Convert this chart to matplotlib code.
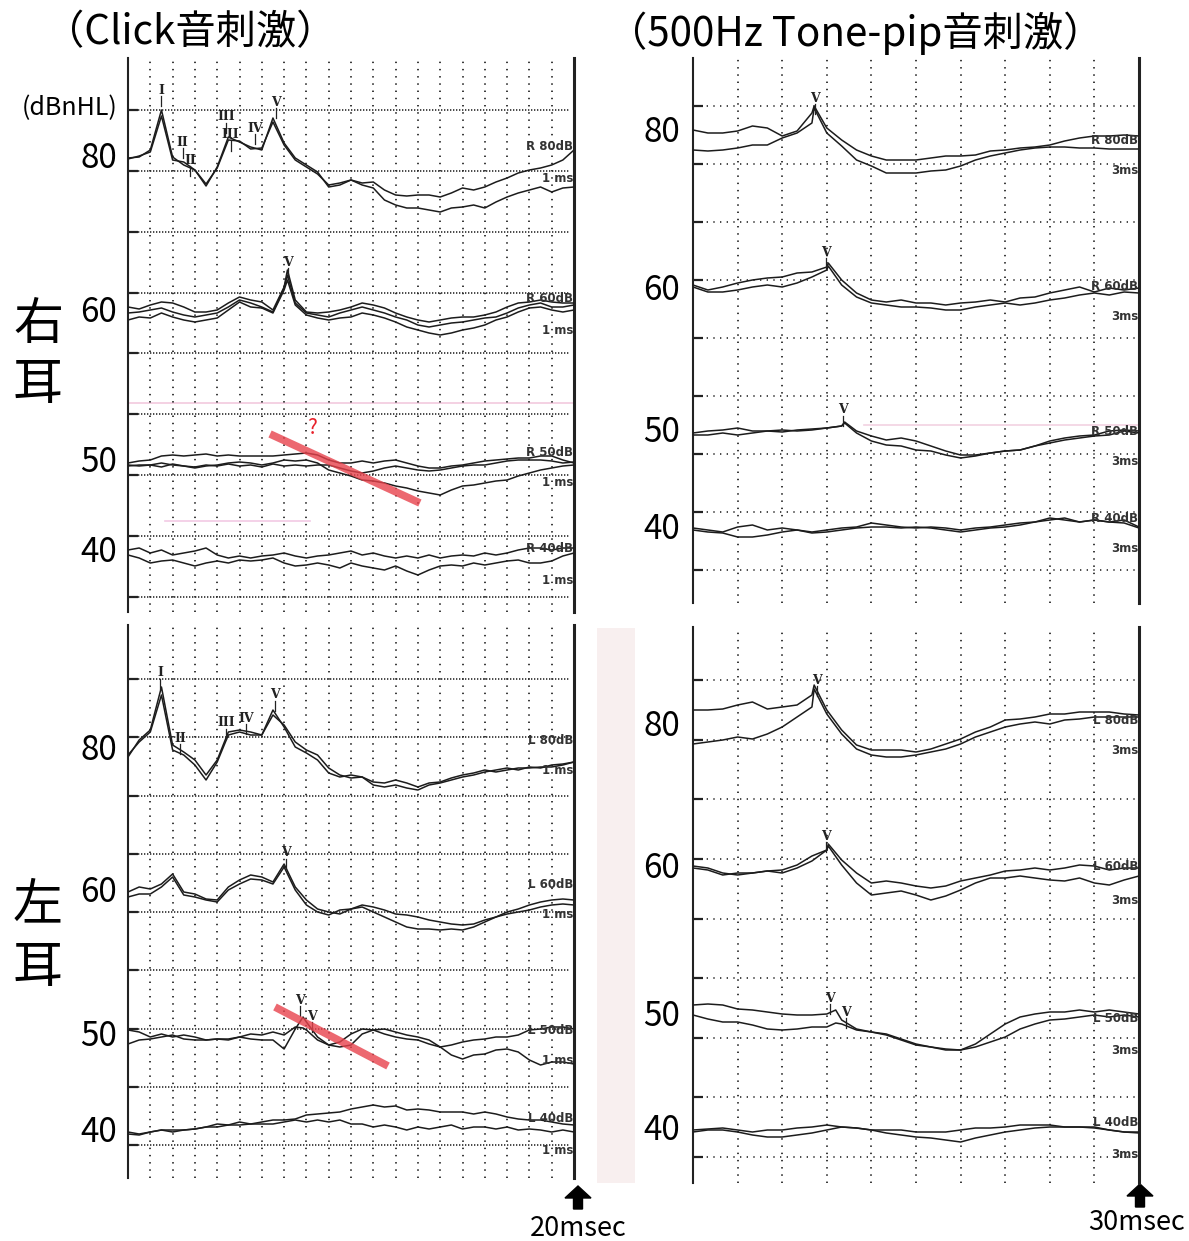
import matplotlib.pyplot as plt
import numpy as np
from matplotlib.patches import FancyArrow, Rectangle
from matplotlib.transforms import blended_transform_factory

plt.rcParams['font.family'] = ['Noto Sans CJK JP', 'DejaVu Sans']

W, H = 1189, 1241

# sample times (ms)
click_t = np.arange(0, 20.5, 0.5)
tone_t = np.arange(0, 31, 1.0)

# ---- Click, right ear (amplitude relative to the level baseline)
r80_click_a = [0, 1, 8, 48, 1, -7, -12, -28, -9, 21, 16, 11, 8, 40, 15, 0, -7, -14, -29, -27, -22,
               -25, -24, -32, -37, -38, -37, -37, -39, -35, -30, -32, -29, -24, -20, -15, -12, -10, -7, -2, 8]
r80_click_b = [-1, 2, 6, 42, -2, -4, -12, -26, -10, 18, 17, 9, 10, 36, 13, -2, -9, -16, -27, -25, -22,
               -27, -30, -42, -47, -50, -50, -52, -54, -50, -49, -47, -50, -44, -39, -35, -32, -29, -34, -30, -29]
r60_click_a = [5, 3, 7, 10, 9, 5, 0, 0, 2, 9, 15, 12, 10, 2, 25, 12, 0, -1, 0, 2, 5,
               9, 7, 4, -1, -5, -8, -10, -8, -6, -5, -5, -3, 0, 5, 9, 10, 12, 10, 9, 9]
r60_click_b = [-1, 0, 2, 4, 0, -3, -5, -3, -1, 5, 12, 9, 5, 0, 24, 9, -1, -3, -5, -1, 2,
               5, 2, -1, -5, -8, -13, -15, -13, -11, -10, -8, -6, -5, -1, 4, 7, 9, 5, 5, 7]
r60_click_c = [-8, -5, -6, -1, -5, -8, -10, -8, -6, 2, 10, 5, 4, -1, 22, 7, -3, -6, -8, -6, -5,
               -1, -3, -6, -10, -15, -18, -21, -23, -21, -18, -16, -13, -8, -5, 0, 4, 5, 2, 0, 2]
r60_click_peak = (7.15, [42, 37, 32])
r50_click_a = [0, 2, 3, 7, 8, 7, 8, 9, 7, 8, 7, 7, 7, 7, 8, 9, 10, 8, 3, 0, 0,
               2, 0, 2, 3, 0, -3, -5, -5, -3, -2, 0, 2, 3, 4, 5, 5, 7, 7, 3, 0]
r50_click_b = [-2, -3, -2, -4, -1, -3, -4, -2, -3, -1, -3, -2, -4, -1, -3, -2, -3, -2, -2, -5, -8,
               -10, -8, -5, -3, -5, -7, -8, -7, -5, -3, -2, -2, 0, 2, 3, 3, 3, 2, 0, 1]
r50_click_c = [-3, -2, -2, 0, -2, -3, -5, -3, -2, 0, 1, 0, -2, 0, 3, 2, 3, 0, -7, -10, -13,
               -17, -18, -20, -23, -25, -28, -30, -32, -27, -23, -22, -20, -18, -17, -13, -10, -7, -5, -3, -2]
r40_click_a = [3, 5, 0, 3, -2, 0, 2, 5, -2, -5, -3, -5, -3, -2, 0, -3, -5, -3, -2, 0, 2,
               -2, 0, -3, -5, -3, -5, -2, -5, -3, -2, -3, 0, -2, 0, 3, 5, 5, 3, 5, 5]
r40_click_b = [-2, -5, -10, -8, -7, -10, -13, -10, -8, -10, -7, -8, -7, -5, -10, -13, -12, -10, -12, -15, -10,
               -13, -15, -17, -13, -18, -22, -17, -13, -12, -13, -10, -12, -10, -8, -7, -10, -10, -8, -3, 0]

# ---- Click, left ear
l80_click_a = [-7, 10, 20, 63, 5, -2, -10, -25, -10, 18, 20, 18, 15, 40, 23, 3, -3, -10, -23, -27, -25,
               -27, -32, -33, -30, -33, -37, -33, -32, -28, -25, -23, -20, -22, -20, -18, -18, -17, -17, -15, -12]
l80_click_b = [-5, 8, 18, 55, 0, -5, -15, -30, -12, 15, 18, 15, 15, 35, 25, 8, 0, -5, -18, -25, -28,
               -27, -35, -37, -35, -38, -40, -35, -33, -30, -27, -25, -22, -20, -18, -20, -17, -18, -15, -14, -12]
l60_click_a = [0, 5, 3, 8, 18, 0, -2, -7, -8, 5, 12, 17, 15, 10, 28, 5, -8, -17, -20, -22, -17,
               -13, -15, -18, -22, -23, -25, -28, -30, -32, -33, -32, -28, -25, -20, -17, -13, -10, -8, -7, -8]
l60_click_b = [-5, -2, -2, 5, 15, -3, -5, -8, -10, 2, 8, 13, 12, 8, 25, 2, -13, -20, -23, -18, -17,
               -15, -20, -25, -30, -35, -37, -37, -38, -37, -38, -35, -30, -25, -22, -20, -18, -15, -13, -12, -13]
l50_click_a = [7, 5, 0, 3, 0, 2, 0, -3, -2, -2, 0, 3, 2, 5, 2, 10, 7, -3, -8, -5, 3,
               8, 7, 3, 0, -2, -3, -7, -10, -8, -5, -3, -2, 0, 0, 2, 7, 8, 10, 10, 8]
l50_click_b = [-7, -3, -2, 0, 2, -2, -3, -3, -2, -3, 0, -2, -3, -3, -12, 8, 15, 0, -8, -10, -8,
               3, 7, 8, 5, 2, 0, -3, -10, -18, -22, -18, -17, -13, -12, -15, -23, -28, -25, -25, -27]
l50_click_peak = (7.85, [9, 20])
l40_click_a = [0, -2, 0, 2, 2, 2, 3, 5, 8, 7, 10, 8, 10, 12, 12, 13, 17, 18, 19, 20, 23,
               25, 27, 25, 26, 22, 23, 22, 20, 20, 20, 18, 20, 18, 15, 13, 12, 12, 10, 8, 7]
l40_click_b = [-2, -3, 0, 2, 0, 2, 3, 5, 5, 7, 7, 8, 8, 8, 10, 12, 10, 12, 10, 12, 8,
               8, 5, 7, 5, 2, 5, 3, 5, 7, 3, 5, 5, 3, 5, 2, 3, 2, 0, 2, 0]

# ---- 500Hz tone-pip, right ear
r80_tone_a = [3, 0, 0, 2, 7, 5, -3, 2, 20, 5, -7, -17, -23, -27, -27, -27, -25, -23, -23, -22,
              -18, -17, -15, -14, -12, -8, -5, -3, -3, -2, -3]
r80_tone_b = [-17, -18, -17, -15, -12, -12, -5, 0, 10, 0, -13, -27, -33, -40, -40, -40, -38, -37, -33, -27,
              -23, -20, -17, -15, -14, -14, -15, -15, -16, -16, -16]
r80_tone_peak = (8.15, [27, 25])
r60_tone_a = [5, 0, 3, 7, 10, 12, 13, 17, 18, 23, 10, -3, -10, -12, -10, -13, -13, -15, -13, -12,
              -10, -12, -8, -7, -3, 0, 3, -2, 2, 0, 2]
r60_tone_b = [3, -2, -2, 0, 3, 5, 3, 7, 13, 20, 5, -7, -13, -15, -17, -17, -18, -20, -20, -17,
              -15, -13, -15, -13, -10, -8, -5, -3, -5, -2, -3]
r60_tone_peak = (9.1, [27, 24])
r50_tone_a = [0, 2, 3, 5, 2, 2, 3, 2, 3, 5, 7, 2, -3, -7, -5, -8, -13, -18, -22, -22,
              -20, -18, -17, -13, -8, -5, -3, -2, 2, 3, 2]
r50_tone_b = [-2, -2, 0, -2, 0, 2, 1, 3, 4, 5, 7, 0, -8, -12, -13, -17, -18, -22, -25, -23,
              -20, -18, -17, -13, -10, -7, -5, -3, -2, 2, 0]
r50_tone_peak = (10.2, [11, 10])
r40_tone_a = [2, 0, -2, 3, 5, 0, 2, 0, -2, 0, 2, 3, 7, 5, 3, 2, 3, 2, 0, 2,
              3, 5, 7, 8, 10, 12, 8, 10, 8, 10, 3]
r40_tone_b = [0, -2, -3, -7, -7, -5, -2, 0, -3, -2, 0, 2, 3, 3, 2, 3, 2, 0, -2, 0,
              2, 3, 5, 8, 12, 10, 8, 10, 8, 7, 2]

# ---- 500Hz tone-pip, left ear
l80_tone_a = [17, 17, 18, 22, 25, 18, 20, 22, 32, 17, -3, -18, -23, -23, -23, -25, -22, -17, -12, -5,
              0, 7, 8, 10, 13, 13, 15, 15, 15, 13, 12]
l80_tone_b = [-17, -15, -13, -10, -12, -7, 0, 10, 20, 13, -7, -22, -28, -30, -30, -28, -25, -22, -17, -10,
              -5, 0, 3, 5, 3, 7, 8, 10, 10, 10, 10]
l80_tone_peak = (8.15, [42, 38])
l60_tone_a = [2, 0, -5, -7, -5, -3, -5, 0, 7, 18, 8, -5, -15, -13, -15, -18, -20, -18, -13, -10,
              -7, -3, -2, 0, -2, 0, 3, 2, -2, 0, 0]
l60_tone_b = [0, -2, -7, -5, -5, -3, -2, 3, 12, 18, 3, -15, -27, -25, -23, -27, -32, -28, -22, -15,
              -10, -10, -8, -10, -12, -13, -10, -15, -17, -12, -8]
l60_tone_peak = (9.1, [24, 22])
l50_tone_a = [12, 13, 12, 8, 7, 5, 3, 2, 2, 3, -3, -12, -15, -17, -22, -27, -30, -32, -33, -27,
              -17, -7, 0, 3, 5, 5, 7, 5, 7, 5, 3]
l50_tone_b = [2, -2, -5, -5, -8, -12, -13, -12, -10, -10, -7, -13, -15, -18, -23, -28, -30, -33, -33, -30,
              -25, -20, -12, -7, -3, -2, 0, 2, 0, 2, 0]
l50_tone_peak = (9.6, [7, -6])
l40_tone_a = [0, 1, 2, 0, -2, 0, 0, 2, 3, 5, 3, 2, 0, 0, 0, -2, -2, -2, 0, 2,
              2, 3, 5, 5, 5, 3, 3, 2, 0, -2, -2]
l40_tone_b = [-2, 0, 0, -2, -5, -7, -7, -5, -3, 0, 3, 2, 0, -3, -5, -7, -8, -10, -12, -8,
              -5, -2, 0, 2, 3, 3, 3, 3, 0, -2, -3]


def with_peak(t, y, peak, i):
    y = np.asarray(y, dtype=float)
    if peak is None:
        return t, y
    tp, amps = peak
    k = np.searchsorted(t, tp)
    return np.insert(t, k, tp), np.insert(y, k, amps[i])


def px_axes(x0, y0, x1, y1):
    return fig.add_axes([x0 / W, 1 - y1 / H, (x1 - x0) / W, (y1 - y0) / H])


def setup_panel(ax, tmax, tstep, hgrid, height, hdash, vdash):
    ax.set_xlim(0, tmax)
    ax.set_ylim(0, height)
    ax.set_facecolor('none')
    for t in np.arange(tstep, tmax - 0.01, tstep):
        ax.axvline(t, color='#2a2a2a', lw=1.3, ls=(0, vdash), zorder=1)
    for h in hgrid:
        ax.axhline(h, xmin=0.015, xmax=0.99, color='#2a2a2a', lw=1.2, ls=(0, hdash), zorder=1)
    ax.set_xticks([])
    ax.set_yticks(hgrid)
    ax.tick_params(axis='y', direction='in', length=7, width=1.6, labelleft=False, colors='#222')
    ax.spines['top'].set_visible(False)
    ax.spines['bottom'].set_visible(False)
    ax.spines['left'].set_linewidth(1.5)
    ax.spines['right'].set_linewidth(2.2)
    ax.spines['left'].set_color('#222')
    ax.spines['right'].set_color('#222')


def draw_levels(ax, t, ear, levels, ms_text, num_dx):
    tr = blended_transform_factory(ax.transAxes, ax.transData)
    tmax = ax.get_xlim()[1]
    for name, base, traces, peak, lab_dy, ms_dy in levels:
        for i, y in enumerate(traces):
            tt, yy = with_peak(t, y, peak, i)
            ax.plot(tt, yy + base, color='#1c1c1c', lw=1.1, zorder=3)
        ax.text(num_dx, base, name, transform=tr, ha='right', va='center', fontsize=24)
        ax.text(tmax * 0.998, base + lab_dy, f'{ear} {name}dB', ha='right', va='center',
                fontsize=8.5, weight='bold', color='#333', family='DejaVu Sans', zorder=4)
        ax.text(tmax * 0.998, base + ms_dy, ms_text, ha='right', va='center',
                fontsize=8.5, weight='bold', color='#333', family='DejaVu Sans', zorder=4)


def draw_marks(ax, marks):
    for t, h, s in marks:
        ax.text(t, h, s, ha='center', va='center', fontsize=9, weight='bold',
                family='DejaVu Serif', color='#222', zorder=4)
        ax.plot([t, t], [h - 6, h - 16], color='#222', lw=0.9, zorder=4)


fig = plt.figure(figsize=(W / 100, H / 100), dpi=100)

bg = fig.add_axes([0, 0, 1, 1])
bg.set_xlim(0, W)
bg.set_ylim(H, 0)
bg.axis('off')
bg.add_patch(Rectangle((597, 628), 38, 555, color='#f8efef', lw=0))
bg.text(190, 33, '（Click音刺激）', fontsize=29, ha='center', va='center')
bg.text(855, 33, '（500Hz Tone-pip音刺激）', fontsize=29, ha='center', va='center')
bg.text(118, 108, '(dBnHL)', fontsize=18, ha='right', va='center')
for ch, y in [('右', 325), ('耳', 385), ('左', 905), ('耳', 968)]:
    bg.text(38, y, ch, fontsize=36, ha='center', va='center')
bg.add_patch(FancyArrow(578, 1209, 0, -23, width=9, head_width=26, head_length=12,
                        length_includes_head=True, color='black'))
bg.add_patch(FancyArrow(1140, 1207, 0, -23, width=9, head_width=26, head_length=12,
                        length_includes_head=True, color='black'))
bg.text(578, 1228, '20msec', fontsize=19.5, ha='center', va='center')
bg.text(1137, 1222, '30msec', fontsize=19.5, ha='center', va='center')

# ---- top-left: click, right ear
ax = px_axes(128, 58, 574, 612)
setup_panel(ax, 20, 1, 15 + 60.9 * np.arange(9), 554, (0.8, 1.0), (0.8, 3.2))
ax.axhline(209, color='#f2c9de', lw=1.2, zorder=0)
ax.plot([1.66, 8.16], [91, 91], color='#f2c9e4', lw=1.2, zorder=0)
draw_levels(ax, click_t, 'R', [
    ('80', 454, [r80_click_a, r80_click_b], None, 11, -20),
    ('60', 300, [r60_click_a, r60_click_b, r60_click_c], r60_click_peak, 13, -18),
    ('50', 149, [r50_click_a, r50_click_b, r50_click_c], None, 11, -20),
    ('40', 59, [r40_click_a, r40_click_b], None, 5, -27),
], '1 ms', -0.025)
draw_marks(ax, [(1.48, 522, 'I'), (2.45, 470, 'II'), (2.8, 452, 'II'), (4.4, 495, 'III'),
                (4.6, 477, 'III'), (5.7, 484, 'IV'), (6.62, 510, 'V'), (7.17, 350, 'V')])
ax.plot([6.37, 13.09], [178, 109], color='#e8424c', lw=5.5, alpha=0.8, solid_capstyle='butt', zorder=5)
ax.text(8.25, 184, '?', color='#e8202a', fontsize=15, ha='center', va='center', zorder=5)

# ---- bottom-left: click, left ear
ax = px_axes(128, 625, 574, 1178)
setup_panel(ax, 20, 1, 33 + 58.25 * np.arange(9), 553, (0.8, 1.0), (0.8, 3.2))
draw_levels(ax, click_t, 'L', [
    ('80', 428, [l80_click_a, l80_click_b], None, 10, -20),
    ('60', 286, [l60_click_a, l60_click_b], None, 7, -23),
    ('50', 141, [l50_click_a, l50_click_b], l50_click_peak, 7, -23),
    ('40', 46, [l40_click_a, l40_click_b], None, 14, -18),
], '1 ms', -0.025)
draw_marks(ax, [(1.43, 505, 'I'), (2.33, 440, 'II'), (4.39, 455, 'III'), (5.29, 460, 'IV'),
                (6.59, 483, 'V'), (7.09, 325, 'V'), (7.7, 178, 'V'), (8.25, 162, 'V')])
ax.plot([6.59, 11.66], [171, 112], color='#e8424c', lw=5.5, alpha=0.8, solid_capstyle='butt', zorder=5)

# ---- top-right: tone-pip, right ear
ax = px_axes(693, 58, 1139, 603)
setup_panel(ax, 30, 3, 33 + 58 * np.arange(9), 545, (0.8, 3.2), (0.8, 3.2))
ax.plot([11.5, 30], [178, 178], color='#f2d2e2', lw=1.2, zorder=0)
draw_levels(ax, tone_t, 'R', [
    ('80', 470, [r80_tone_a, r80_tone_b], r80_tone_peak, -7, -38),
    ('60', 313, [r60_tone_a, r60_tone_b], r60_tone_peak, 3, -27),
    ('50', 170, [r50_tone_a, r50_tone_b], r50_tone_peak, 1, -29),
    ('40', 73, [r40_tone_a, r40_tone_b], None, 11, -19),
], '3ms', -0.029)
draw_marks(ax, [(8.2, 505, 'V'), (8.94, 351, 'V'), (10.09, 193, 'V')])

# ---- bottom-right: tone-pip, left ear
ax = px_axes(693, 627, 1139, 1183)
setup_panel(ax, 30, 3, 26 + 59.6 * np.arange(9), 556, (0.8, 3.2), (0.8, 3.2))
draw_levels(ax, tone_t, 'L', [
    ('80', 456, [l80_tone_a, l80_tone_b], l80_tone_peak, 7, -24),
    ('60', 315, [l60_tone_a, l60_tone_b], l60_tone_peak, 2, -33),
    ('50', 166, [l50_tone_a, l50_tone_b], l50_tone_peak, -2, -34),
    ('40', 53, [l40_tone_a, l40_tone_b], None, 7, -24),
], '3ms', -0.029)
draw_marks(ax, [(8.34, 503, 'V'), (8.94, 347, 'V'), (9.2, 185, 'V'), (10.3, 171, 'V')])

fig.savefig('out.png', dpi=100)
